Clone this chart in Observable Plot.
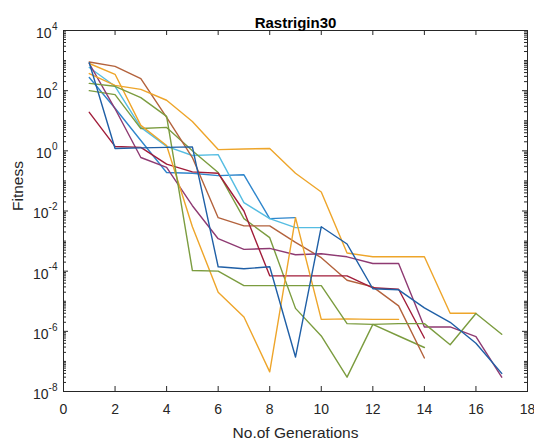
<!DOCTYPE html>
<html><head><meta charset="utf-8">
<script src="https://cdn.jsdelivr.net/npm/d3@7"></script>
<script src="https://cdn.jsdelivr.net/npm/@observablehq/plot@0.6"></script>
<style>body{margin:0;background:#fff}</style>
</head><body><div id="chart"></div>
<script>
const generations = [1,2,3,4,5,6,7,8,9,10,11,12,13,14,15,16,17];

const runBlueDark  = [850, 1.2, 1.25, 1.3, 1.35, 1.4e-4, 1.2e-4, 1.4e-4, 1.4e-7, 3e-3, 8e-4, 2.6e-5, 2.4e-5, 6e-6, 2e-6, 4e-7, 4e-8];
const runBlueLight = [275, 26, 2.2, 0.19, 0.18, 0.15, 0.16, 5.6e-3, 6e-3];
const runOrangeA   = [370, 150, 110, 48, 9.5, 1.1, 1.15, 1.2, 0.18, 0.043, 4e-4, 3e-4, 3e-4, 3e-4, 4e-6, 4e-6];
const runOrangeB   = [800, 350, 7, 1.5, 3e-3, 2e-5, 3e-6, 4.5e-8, 6e-3, 2.5e-6, 2.6e-6, 2.5e-6, 2.5e-6];
const runBrown     = [900, 640, 250, 13, 0.6, 6e-3, 3.2e-3, 3.2e-3, 9e-4, 2.8e-4, 5e-5, 3e-5, 7e-6, 1.3e-7];
const runRed       = [19, 1.4, 1.3, 0.36, 0.2, 0.18, 0.01, 7e-5, 7e-5, 7e-5, 7e-5, 2.8e-5, 2.5e-5, 6e-7];
const runPurple    = [800, 25, 0.6, 0.28, 0.015, 1.2e-3, 5.3e-4, 5.7e-4, 3.5e-4, 3.8e-4, 3e-4, 1.8e-4, 1.8e-4, 1.4e-6, 1.4e-6, 6.7e-7, 3e-8];
const runCyan      = [590, 140, 6, 1.4, 0.7, 0.75, 0.019, 5.6e-3, 2.8e-3, 2.8e-3];
const runGreenA    = [175, 140, 59, 14, 1.05e-4, 1e-4, 3.3e-5, 3.3e-5, 3.3e-5, 3.3e-5, 1.8e-6, 1.7e-6, 1.8e-6, 1.8e-6, 3.6e-7, 3.9e-6, 8e-7];
const runGreenB    = [100, 74, 5.5, 6, 1.0, 0.19, 5.6e-3, 1.3e-3, 5.8e-6, 7e-7, 3e-8, 1.7e-6, 7e-7, 2.9e-7];

const xTicks = [0,2,4,6,8,10,12,14,16,18];
const yExponents = [4,2,0,-2,-4,-6,-8];
const title = "Rastrigin30";
const xLabel = "No.of Generations";
const yLabel = "Fitness";

const series = [
  {name:"blueLight", color:"#2f86cc", values:runBlueLight},
  {name:"cyan", color:"#55bde2", values:runCyan},
  {name:"greenB", color:"#7b9c3f", values:runGreenB},
  {name:"brown", color:"#b3623c", values:runBrown},
  {name:"purple", color:"#8e3a72", values:runPurple},
  {name:"red", color:"#a11d3a", values:runRed},
  {name:"orangeA", color:"#eea52a", values:runOrangeA},
  {name:"orangeB", color:"#eea52a", values:runOrangeB},
  {name:"greenA", color:"#7b9c3f", values:runGreenA},
  {name:"blueDark", color:"#1f5fa6", values:runBlueDark}
];

const yMajor = yExponents.map(e => 10 ** e);
const yMinor = [];
for (let k = -8; k < 4; k++) for (let d = 1; d < 10; d++) {
  const v = d * 10 ** k;
  if (!(d === 1 && k % 2 === 0)) yMinor.push(v);
}

const W = 534, H = 444, mL = 63, mR = 7, mT = 30, mB = 53;
const pw = W - mL - mR, ph = H - mT - mB;
const axisColor = "#262626";

const lineMarks = series.map(s => Plot.line(
  s.values.map((v, i) => ({gen: generations[i], fitness: v})),
  {x: "gen", y: "fitness", stroke: s.color, strokeWidth: 1.4}
));

const chart = Plot.plot({
  width: W, height: H,
  marginLeft: mL, marginRight: mR, marginTop: mT, marginBottom: mB,
  x: {domain: [0, 18], axis: null},
  y: {type: "log", domain: [1e-8, 1e4], axis: null},
  style: {fontFamily: "'Liberation Sans', Arial, sans-serif", fontSize: "14px", background: "#fff", color: axisColor},
  marks: [
    ...lineMarks,
    Plot.frame({stroke: axisColor, strokeWidth: 1}),
    Plot.tickX(xTicks, {x: d => d, insetTop: ph - 5, stroke: axisColor}),
    Plot.tickX(xTicks, {x: d => d, insetBottom: ph - 5, stroke: axisColor}),
    Plot.tickY(yMajor, {y: d => d, insetRight: pw - 5, stroke: axisColor}),
    Plot.tickY(yMajor, {y: d => d, insetLeft: pw - 5, stroke: axisColor}),
    Plot.tickY(yMinor, {y: d => d, insetRight: pw - 3, stroke: axisColor}),
    Plot.tickY(yMinor, {y: d => d, insetLeft: pw - 3, stroke: axisColor}),
    Plot.text(xTicks, {x: d => d, frameAnchor: "bottom", dy: 22, text: d => String(d), fill: axisColor, fontSize: 14}),
    Plot.text(yExponents.filter(e => e >= 0), {y: e => 10 ** e, frameAnchor: "left", text: () => "10", textAnchor: "end", dx: -12, dy: 3, fill: axisColor, fontSize: 14}),
    Plot.text(yExponents.filter(e => e < 0), {y: e => 10 ** e, frameAnchor: "left", text: () => "10", textAnchor: "end", dx: -15, dy: 3, fill: axisColor, fontSize: 14}),
    Plot.text(yExponents, {y: e => 10 ** e, frameAnchor: "left", text: e => String(e), textAnchor: "end", dx: -6, dy: -4, fill: axisColor, fontSize: 10}),
    Plot.text([xLabel], {frameAnchor: "bottom", dy: 46, text: d => d, fill: axisColor, fontSize: 15.5}),
    Plot.text([yLabel], {frameAnchor: "left", dx: -45, rotate: -90, text: d => d, fill: axisColor, fontSize: 15.5}),
    Plot.text([title], {frameAnchor: "top", dy: -13, text: d => d, fill: "#000", fontWeight: "bold", fontSize: 15})
  ]
});
document.getElementById("chart").append(chart);
</script>
</body></html>
